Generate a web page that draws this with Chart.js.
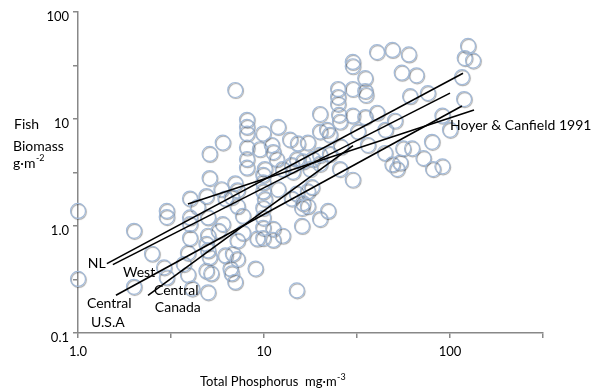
<!DOCTYPE html>
<html>
<head>
<meta charset="utf-8">
<script src="https://cdn.jsdelivr.net/npm/chart.js@4.4.1/dist/chart.umd.min.js"></script>
<style>
  html, body { margin: 0; padding: 0; background: #ffffff; }
  #wrap { width: 594px; height: 392px; }
</style>
</head>
<body>
<div id="wrap"><canvas id="chart" width="594" height="392"></canvas></div>
<script>
// Total phosphorus (mg·m-3) of each lake
const tp = [
  1.0, 1.0, 2.0, 2.0, 2.5, 3.0, 3.0, 2.9, 3.0, 3.7,
  3.9, 4.1, 3.9, 4.0, 4.4, 4.0, 4.0, 4.0, 4.9, 4.9,
  5.2, 5.0, 5.1, 5.1, 4.9, 5.0, 5.0, 5.0, 5.1, 6.0,
  5.9, 6.2, 6.0, 5.7, 6.2, 6.6, 7.0, 7.0, 7.2, 6.7,
  7.2, 7.7, 7.7, 7.2, 6.8, 7.2, 6.7, 7.0, 8.1, 8.1,
  8.1, 8.1, 8.1, 8.1, 9.0, 9.2, 9.5, 9.9, 10.1, 9.9,
  9.9, 9.9, 10.1, 9.9, 9.9, 9.9, 9.9, 11.9, 11.0, 11.2,
  11.7, 12.6, 11.9, 11.2, 12.6, 11.2, 13.8, 15.2, 14.1, 14.3,
  15.0, 14.1, 15.0, 15.0, 17.2, 16.2, 18.3, 17.7, 17.2, 18.1,
  16.0, 16.2, 17.2, 16.0, 20, 20, 22.6, 21.8, 20, 22.6,
  20, 22.1, 20, 25, 25, 25, 25.6, 25.6, 25.3, 25.9,
  30, 30, 30, 30, 30, 32, 35, 35, 35.3, 35,
  36.2, 40.5, 40.5, 49, 50.6, 45, 44.7, 49, 52, 54,
  60, 55, 66, 61, 56, 62.5, 76, 91, 100, 80,
  72, 81, 91, 125, 120, 133, 116, 119
];
// Fish biomass (g·m-2) of each lake
const fish = [
  1.38, 0.32, 0.90, 0.27, 0.55, 1.38, 1.21, 0.41, 0.33, 0.44,
  0.35, 0.26, 0.56, 1.8, 1.5, 1.2, 1.04, 0.77, 0.68, 0.38,
  0.36, 0.24, 4.7, 2.8, 1.9, 1.2, 0.81, 0.59, 0.51, 6.0,
  2.2, 1.8, 1.04, 0.90, 0.53, 0.40, 18.6, 2.5, 2.15, 1.86,
  1.53, 1.24, 0.86, 0.73, 0.55, 0.49, 0.36, 0.30, 9.8, 8.4,
  7.3, 5.4, 4.2, 3.5, 0.40, 0.76, 5.2, 7.3, 3.4, 3.0,
  2.55, 2.1, 1.78, 1.47, 1.19, 0.96, 0.77, 8.4, 5.7, 4.9,
  4.2, 3.4, 2.2, 0.94, 0.81, 0.74, 6.4, 5.9, 3.7, 3.2,
  2.0, 1.8, 4.2, 0.25, 6.0, 4.0, 4.2, 3.4, 2.1, 2.3,
  1.47, 1.63, 1.53, 1.0, 11.1, 7.6, 7.1, 7.9, 4.6, 4.7,
  1.16, 1.38, 3.8, 19, 16, 13.8, 9.4, 3.4, 10.9, 5.5,
  34, 31, 19, 10.7, 2.7, 7.6, 24, 18.2, 16.7, 10.4,
  5.7, 42, 11.4, 44, 9.6, 7.9, 4.8, 3.75, 3.4, 3.9,
  40, 27, 25.5, 16.3, 5.3, 5.3, 17.4, 10.7, 7.9, 6.1,
  4.3, 3.4, 3.6, 48, 37, 35, 24.5, 15.3
];

// Regression fits: start and end of each fitted line (TP, fish biomass)
const fitNames = ['NL', 'West', 'Central U.S.A', 'Central Canada', 'Hoyer & Canfield 1991'];
const fitTp = [[1.43, 117.5], [1.54, 100], [1.60, 116], [2.38, 30.1], [3.9, 134.6]];
const fitFish = [[0.445, 26.7], [0.435, 17.4], [0.225, 13.2], [0.225, 5.62], [1.6, 12.1]];

// Axis ticks every half decade, labels on the decades
const xTicks = [1, 3.1623, 10, 31.623, 100, 316.23];
const xTickLabels = ['1.0', '', '10', '', '100', ''];
const yTicks = [0.1, 0.31623, 1, 3.1623, 10, 31.623, 100];
const yTickLabels = ['0.1', '', '1.0', '', '10', '', '100'];

// Text placed next to the fitted lines, anchored in data units
const fitLabels = [
  { text: 'NL', x: 1.13, y: 0.445 },
  { text: 'West', x: 1.746, y: 0.367 },
  { text: 'Central', x: 1.118, y: 0.19 },
  { text: 'U.S.A', x: 1.175, y: 0.1265 },
  { text: 'Central', x: 2.56, y: 0.25 },
  { text: 'Canada', x: 2.59, y: 0.174 },
  { text: 'Hoyer & Canfield 1991', x: 100, y: 8.6 }
];

const FONT = 'Lato, "Open Sans", "Liberation Sans", sans-serif';
Chart.defaults.font.family = FONT;

const lakePoints = tp.map((v, i) => ({ x: v, y: fish[i] }));

const fitSets = fitNames.map((name, i) => ({
  label: name,
  type: 'line',
  data: [{ x: fitTp[i][0], y: fitFish[i][0] }, { x: fitTp[i][1], y: fitFish[i][1] }],
  borderColor: '#000000',
  borderWidth: 1.6,
  pointRadius: 0,
  showLine: true,
  fill: false,
  tension: 0
}));

// Soft shadow under the open circles
const shadowPlugin = {
  id: 'circleShadow',
  beforeDatasetDraw(chart, args) {
    if (chart.data.datasets[args.index].label !== 'lakes') return;
    const c = chart.ctx;
    c.save();
    c.shadowColor = 'rgba(30,30,30,0.38)';
    c.shadowOffsetX = 0.8;
    c.shadowOffsetY = 1;
    c.shadowBlur = 0.8;
  },
  afterDatasetDraw(chart, args) {
    if (chart.data.datasets[args.index].label !== 'lakes') return;
    chart.ctx.restore();
  }
};

function drawSup(c, base, sup, x, y, size) {
  c.font = size + 'px ' + FONT;
  c.fillText(base, x, y);
  const w = c.measureText(base).width;
  c.font = Math.round(size * 0.66) + 'px ' + FONT;
  c.fillText(sup, x + w + 0.5, y - size * 0.38);
}

const textPlugin = {
  id: 'chartTexts',
  afterDraw(chart) {
    const c = chart.ctx;
    const xs = chart.scales.x, ys = chart.scales.y;
    c.save();
    c.fillStyle = '#000000';
    c.textBaseline = 'middle';
    c.textAlign = 'left';
    c.font = '14px ' + FONT;
    fitLabels.forEach(l => {
      c.fillText(l.text, xs.getPixelForValue(l.x), ys.getPixelForValue(l.y));
    });
    // y axis title
    c.font = '14px ' + FONT;
    c.fillText('Fish', 14, 124);
    c.fillText('Biomass', 13, 146);
    drawSup(c, 'g·m', '-2', 13, 163, 14);
    // x axis title
    drawSup(c, 'Total Phosphorus  mg·m', '-3', 200, 382, 13);
    c.restore();
  }
};

new Chart(document.getElementById('chart'), {
  type: 'scatter',
  data: {
    datasets: [
      ...fitSets,
      {
        label: 'lakes',
        data: lakePoints,
        pointRadius: 7.5,
        pointBorderWidth: 1.2,
        pointBorderColor: '#a3bad8',
        pointBackgroundColor: 'rgba(255,255,255,0)',
        clip: false
      }
    ]
  },
  options: {
    responsive: false,
    animation: false,
    devicePixelRatio: 1,
    layout: { padding: { top: 9, right: 51, left: 0, bottom: 0 } },
    plugins: { legend: { display: false }, tooltip: { enabled: false } },
    scales: {
      x: {
        type: 'logarithmic',
        min: 1,
        max: 316.23,
        afterBuildTicks: s => { s.ticks = xTicks.map(v => ({ value: v })); },
        afterFit: s => { s.height = 59; },
        grid: { display: true, drawOnChartArea: false, drawTicks: true, tickLength: 5, color: '#888888', lineWidth: 1.5 },
        border: { display: true, color: '#888888', width: 1.5 },
        ticks: {
          autoSkip: false, maxRotation: 0, color: '#000000', padding: 6,
          font: { size: 13 },
          callback: (v, i) => xTickLabels[i]
        }
      },
      y: {
        type: 'logarithmic',
        min: 0.1,
        max: 100,
        afterBuildTicks: s => { s.ticks = yTicks.map(v => ({ value: v })); },
        afterFit: s => { s.width = 78; },
        grid: { display: true, drawOnChartArea: false, drawTicks: true, tickLength: 5, color: '#888888', lineWidth: 1.5 },
        border: { display: true, color: '#888888', width: 1.5 },
        ticks: {
          autoSkip: false, color: '#000000', padding: 4, labelOffset: 5,
          font: { size: 13 },
          callback: (v, i) => yTickLabels[i]
        }
      }
    }
  },
  plugins: [shadowPlugin, textPlugin]
});
</script>
</body>
</html>
